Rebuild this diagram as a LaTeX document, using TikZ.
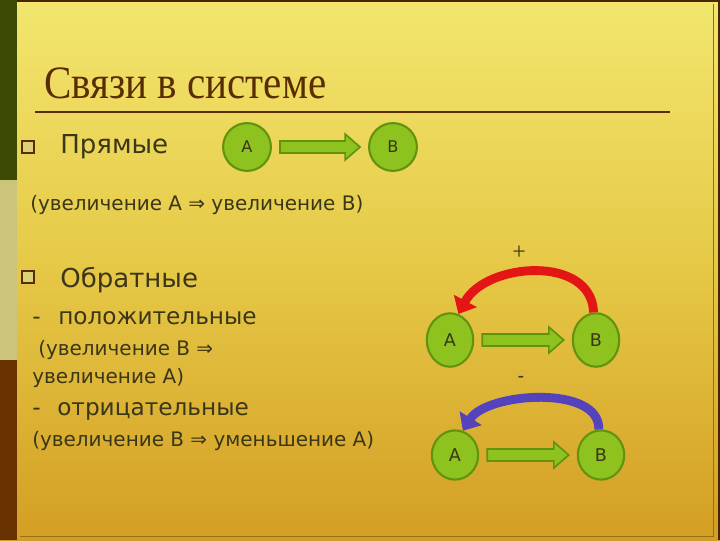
\documentclass[tikz,border=0pt]{standalone}
\usepackage{fontspec}
\setmainfont{Liberation Serif}
\setsansfont{DejaVu Sans}
\usetikzlibrary{arrows.meta,calc,positioning,shapes.geometric}
\definecolor{bgtop}{HTML}{F2E66E}
\definecolor{bgmid}{HTML}{E6C846}
\definecolor{bgbot}{HTML}{D39E24}
\definecolor{bardark}{HTML}{3B4A05}
\definecolor{barlight}{HTML}{CBC57C}
\definecolor{barbrown}{HTML}{673200}
\definecolor{titlebrown}{HTML}{5A2D00}
\definecolor{ink}{HTML}{3A3618}
\definecolor{leaf}{HTML}{8DC21F}
\definecolor{leafdark}{HTML}{62930E}
\definecolor{posred}{HTML}{E31515}
\definecolor{negblue}{HTML}{5543BE}
\tikzset{
    ball/.style={
           ellipse,
           draw=leafdark, line width=1.5pt,
           fill=leaf,
           minimum width=#1,
           minimum height=#1,
           inner sep=0pt,
           font=\sffamily\fontsize{12.5}{14}\selectfont,
           text=ink,
           },
    ball/.default=34pt,
    big/.style={anchor=base west, text=ink, inner sep=0pt,
           font=\sffamily\fontsize{18.5}{21}\selectfont},
    small/.style={anchor=base west, text=ink, inner sep=0pt,
           font=\sffamily\fontsize{14.2}{16}\selectfont},
    mid/.style={anchor=base west, text=ink, inner sep=0pt,
           font=\sffamily\fontsize{16.5}{20}\selectfont},
    sqbullet/.style={rectangle, draw=titlebrown, line width=1.5pt,
           fill=barlight!60!bgtop, minimum size=8pt, inner sep=0pt},
    fatarr/.style={fill=leaf, draw=leafdark, line width=1.2pt, line join=miter},
    loop/.style={line width=6.3pt, -{Triangle[length=10.5pt,width=18pt]}},
}
% fat green arrow from one ball to the next
\newcommand{\fatarrow}[2]{%
  \draw[fatarr] let \p1=($(#1.east)+(8,0)$), \p2=($(#2.west)-(8,0)$) in
    (\x1,\y1+4.3pt) -- (\x2-10.6pt,\y1+4.3pt) -- (\x2-10.6pt,\y1+9.2pt) -- (\x2,\y1)
    -- (\x2-10.6pt,\y1-9.2pt) -- (\x2-10.6pt,\y1-4.3pt) -- (\x1,\y1-4.3pt) -- cycle;}

\begin{document}
\begin{tikzpicture}[x=0.025cm,y=-0.025cm]
\useasboundingbox (0,0) rectangle (720,540);
% background and frame
\shade[top color=bgtop, bottom color=bgbot, middle color=bgmid] (0,0) rectangle (720,540);
\fill[bardark] (0,0) rectangle (17,180);
\fill[barlight] (0,180) rectangle (17,360);
\fill[barbrown] (0,360) rectangle (17,540);
\draw[titlebrown!80!black, line width=1.5pt] (17,0.5) -- (720,0.5);
\draw[titlebrown!80!black, line width=1.5pt] (719,0) -- (719,540);
\draw[bgbot!70!black, line width=0.5pt] (713,4) -- (713,536) -- (20,536);
% TITLE
\node[anchor=base west, inner sep=0pt, text=titlebrown,
      font=\fontsize{33}{38}\selectfont] (title) at (44,98)
      {\scalebox{0.885}[1]{Связи в системе}};
\draw[titlebrown, line width=1.6pt] (35,112) -- (670,112);
% DIRECT LINKS
\node[sqbullet] (b1) at (28,147) {};
\node[big] (direct) at (60,153) {Прямые};
\node[ball, font=\sffamily\fontsize{11.5}{13}\selectfont] (A1) at (247,147) {А};
\node[ball, font=\sffamily\fontsize{11.5}{13}\selectfont] (B1) at (393,147) {В};
\fatarrow{A1}{B1}
\node[small] (directnote) at (30,210) {(увеличение А ⇒ увеличение В)};
% FEEDBACK LINKS
\node[sqbullet] (b2) at (28,277) {};
\node[big] (feedback) at (60,287) {Обратные};
\node[mid] (dashpos) at (32,324) {-};
\node[mid] (positive) at (58,324) {положительные};
\node[small] (posnote1) at (38,355) {(увеличение В ⇒};
\node[small] (posnote2) at (32,383) {увеличение А)};
\node[mid] (dashneg) at (32,415) {-};
\node[mid] (negative) at (57,415) {отрицательные};
\node[small] (negnote) at (32,446) {(увеличение В ⇒ уменьшение А)};
% positive loop
\node[ball={33pt}, minimum height=38pt] (A2) at (450,340) {А};
\node[ball={33pt}, minimum height=38pt] (B2) at (596,340) {В};
\fatarrow{A2}{B2}
\node[font=\fontsize{17}{18}\selectfont, text=ink] (plus) at (519,253) {+};
\draw[loop, posred] (B2.95) to[out=92, in=62, looseness=1.1] (A2.72);
% negative loop
\node[ball={33pt}, minimum height=35pt] (A3) at (455,455) {А};
\node[ball={33pt}, minimum height=35pt] (B3) at (601,455) {В};
\fatarrow{A3}{B3}
\node[font=\bfseries\fontsize{13}{14}\selectfont, text=ink] (minus) at (521,379) {-};
\draw[loop, negblue] (B3.95) to[out=88, in=58, looseness=0.85] (A3.72);
\end{tikzpicture}
\end{document}
